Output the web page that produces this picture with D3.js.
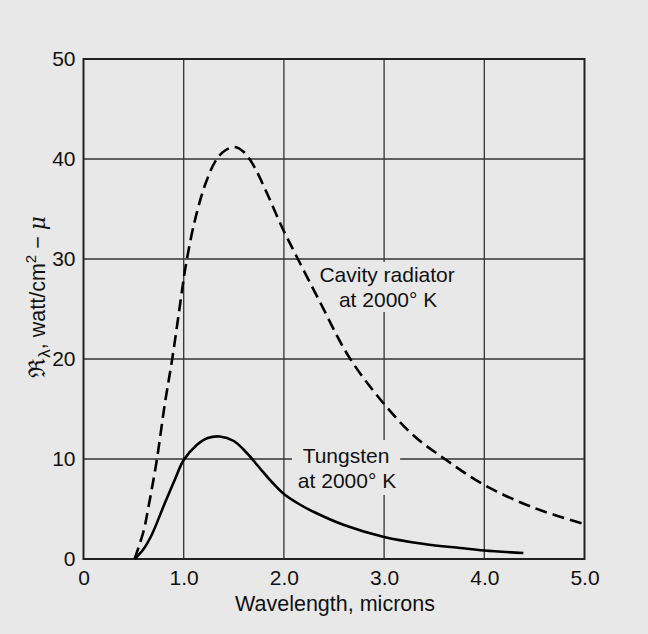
<!DOCTYPE html>
<html>
<head>
<meta charset="utf-8">
<script src="https://cdn.jsdelivr.net/npm/d3@7"></script>
<style>
  html, body { margin: 0; padding: 0; background: #e8e8e8; }
  text { font-family: "Liberation Sans", Arial, "DejaVu Sans", sans-serif; fill: #111; }
</style>
</head>
<body>
<svg id="chart" width="648" height="634"></svg>
<script>
// wavelength (microns) vs radiancy
var cavityX = [0.51, 0.6, 0.65, 0.73, 0.81, 0.89, 0.97, 1.02, 1.11, 1.22, 1.33, 1.42, 1.51, 1.6, 1.7, 1.83, 1.98, 2.14, 2.36, 2.65, 3.0, 3.3, 3.62, 4.0, 4.5, 5.0];
var cavityY = [0, 2.8, 5.3, 9.8, 15.4, 20.3, 25.9, 29.3, 33.8, 37.6, 40, 40.9, 41.2, 40.7, 39.3, 36.6, 33.2, 30, 25.7, 20.2, 15.5, 12.3, 9.9, 7.4, 5.1, 3.5];

var tungstenX = [0.51, 0.6, 0.68, 0.8, 0.91, 1.0, 1.13, 1.24, 1.36, 1.5, 1.63, 1.75, 1.88, 2.0, 2.15, 2.3, 2.6, 3.0, 3.4, 3.76, 4.0, 4.39];
var tungstenY = [0, 1.0, 2.4, 5.3, 7.9, 9.9, 11.4, 12.1, 12.25, 11.8, 10.6, 9.2, 7.7, 6.5, 5.5, 4.7, 3.4, 2.2, 1.5, 1.1, 0.85, 0.6];

var xTicks = [0, 1, 2, 3, 4, 5],
    xTickLabels = ['0', '1.0', '2.0', '3.0', '4.0', '5.0'],
    yTicks = [0, 10, 20, 30, 40, 50];

var margin = {top: 59, left: 83.5},
    width = 501,
    height = 500;

var x = d3.scaleLinear().domain([0, 5]).range([0, width]),
    y = d3.scaleLinear().domain([0, 50]).range([height, 0]);

var svg = d3.select('#chart');
var g = svg.append('g')
           .attr('transform', 'translate(' + margin.left + ',' + margin.top + ')');

// grid lines
var grid = g.append('g').attr('class', 'grid');

grid.selectAll('line.v')
    .data(xTicks.slice(1, -1))
    .enter()
    .append('line')
    .attr('x1', function(d) { return x(d); })
    .attr('x2', function(d) { return x(d); })
    .attr('y1', 0)
    .attr('y2', height)
    .attr('stroke', '#333')
    .attr('stroke-width', 1.3);

grid.selectAll('line.h')
    .data(yTicks.slice(1, -1))
    .enter()
    .append('line')
    .attr('x1', 0)
    .attr('x2', width)
    .attr('y1', function(d) { return y(d); })
    .attr('y2', function(d) { return y(d); })
    .attr('stroke', '#333')
    .attr('stroke-width', 1.3);

// label backgrounds break the grid like in the original
g.append('rect')
 .attr('x', x(2.27)).attr('y', y(29.7))
 .attr('width', x(1.52)).attr('height', y(0) - y(5))
 .attr('fill', '#e8e8e8');
g.append('rect')
 .attr('x', x(2.08)).attr('y', y(11.9))
 .attr('width', x(1.08)).attr('height', y(0) - y(5.5))
 .attr('fill', '#e8e8e8');

// frame
g.append('rect')
 .attr('x', 0).attr('y', 0)
 .attr('width', width).attr('height', height)
 .attr('fill', 'none')
 .attr('stroke', '#222')
 .attr('stroke-width', 2);

// axes, only the labels are visible
var xAxis = d3.axisBottom(x)
              .tickValues(xTicks)
              .tickSize(0)
              .tickPadding(11)
              .tickFormat(function(d, i) { return xTickLabels[i]; });

var yAxis = d3.axisLeft(y)
              .tickValues(yTicks)
              .tickSize(0)
              .tickPadding(8)
              .tickFormat(d3.format(''));

g.append('g')
 .attr('transform', 'translate(0,' + height + ')')
 .call(xAxis)
 .call(function(s) { s.select('.domain').remove(); })
 .selectAll('text')
 .style('font-size', '21px')
 .attr('fill', '#111');

g.append('g')
 .call(yAxis)
 .call(function(s) { s.select('.domain').remove(); })
 .selectAll('text')
 .style('font-size', '21px')
 .attr('fill', '#111');

// curves
var line = d3.line()
             .x(function(d) { return x(d[0]); })
             .y(function(d) { return y(d[1]); })
             .curve(d3.curveCatmullRom.alpha(0.5));

g.append('path')
 .datum(d3.zip(cavityX, cavityY))
 .attr('d', line)
 .attr('fill', 'none')
 .attr('stroke', '#000')
 .attr('stroke-width', 2.6)
 .attr('stroke-dasharray', '12,6');

g.append('path')
 .datum(d3.zip(tungstenX, tungstenY))
 .attr('d', line)
 .attr('fill', 'none')
 .attr('stroke', '#000')
 .attr('stroke-width', 2.6);

// annotations
var notes = g.append('g').style('font-size', '21px').attr('text-anchor', 'middle');
notes.append('text').attr('x', x(3.03)).attr('y', y(27.7)).text('Cavity radiator');
notes.append('text').attr('x', x(3.04)).attr('y', y(25.2)).text('at 2000\u00b0 K');
notes.append('text').attr('x', x(2.62)).attr('y', y(9.6)).text('Tungsten');
notes.append('text').attr('x', x(2.63)).attr('y', y(7.1)).text('at 2000\u00b0 K');

// axis titles
svg.append('text')
   .attr('x', 335)
   .attr('y', 611)
   .attr('text-anchor', 'middle')
   .style('font-size', '21.5px')
   .text('Wavelength, microns');

var yTitle = svg.append('text')
                .attr('transform', 'translate(45,297) rotate(-90)')
                .attr('text-anchor', 'middle')
                .style('font-size', '21.5px');
yTitle.append('tspan').style('font-family', '"DejaVu Serif", serif').style('font-size', '23px').text('\u211c');
yTitle.append('tspan').attr('dy', 5).style('font-size', '17px').text('\u03bb');
yTitle.append('tspan').attr('dy', -5).text(', watt/cm');
yTitle.append('tspan').attr('dy', -9).style('font-size', '15px').text('2');
yTitle.append('tspan').attr('dy', 9).text(' \u2212 ');
yTitle.append('tspan').style('font-family', '"DejaVu Serif", serif').style('font-style', 'italic').text('\u03bc');
</script>
</body>
</html>
